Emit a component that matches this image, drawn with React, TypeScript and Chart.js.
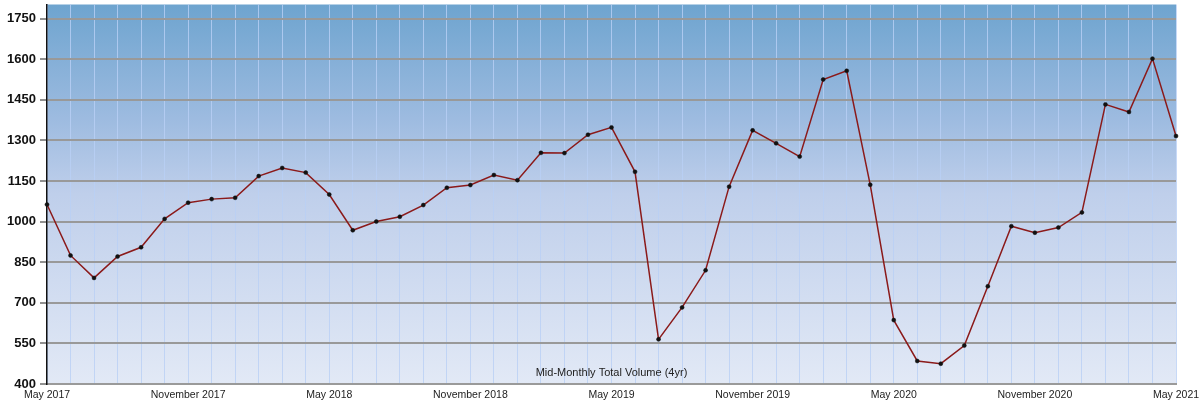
import React, { useEffect, useRef } from "react";
import { Chart, registerables } from "chart.js";

Chart.register(...registerables);

const monthNames = ["January", "February", "March", "April", "May", "June", "July", "August", "September", "October", "November", "December"];

const categories: string[] = [];
for (let i = 0; i < 49; i++) {
  const m = (4 + i) % 12;
  const y = 2017 + Math.floor((4 + i) / 12);
  categories.push(`${monthNames[m]} ${y}`);
}

const volume = [
  1063, 875, 792, 871, 905, 1010, 1070, 1083, 1088, 1168, 1198, 1181, 1100,
  968, 1000, 1018, 1061, 1125, 1135, 1172, 1153, 1254, 1253, 1321, 1348,
  1184, 565, 683, 820, 1129, 1337, 1289, 1240, 1525, 1557, 1136,
  636, 485, 475, 542, 761, 983, 959, 978, 1034, 1433, 1405, 1602, 1316,
];

const yTicks = [400, 550, 700, 850, 1000, 1150, 1300, 1450, 1600, 1750];

const chartTitle = "Mid-Monthly Total Volume (4yr)";

const bgPlugin = {
  id: "bgGradient",
  beforeDraw(chart: any) {
    const { ctx, chartArea } = chart;
    if (!chartArea) return;
    const g = ctx.createLinearGradient(0, chartArea.top, 0, chartArea.bottom);
    g.addColorStop(0, "#6ea4cf");
    g.addColorStop(0.3, "#9dbbe0");
    g.addColorStop(0.5, "#bfcfeb");
    g.addColorStop(1, "#e2e9f6");
    ctx.save();
    ctx.fillStyle = g;
    ctx.fillRect(chartArea.left, chartArea.top, chartArea.right - chartArea.left, chartArea.bottom - chartArea.top);
    ctx.restore();
  },
};

const titlePlugin = {
  id: "innerTitle",
  afterDraw(chart: any) {
    const { ctx, chartArea } = chart;
    ctx.save();
    ctx.font = "11px 'Liberation Sans', Arial, sans-serif";
    ctx.fillStyle = "#222";
    ctx.textAlign = "center";
    ctx.textBaseline = "middle";
    ctx.fillText(chartTitle, (chartArea.left + chartArea.right) / 2, chartArea.bottom - 11);
    ctx.restore();
  },
};

export default function App() {
  const ref = useRef<HTMLCanvasElement>(null);
  useEffect(() => {
    document.body.style.margin = "0";
    const chart = new Chart(ref.current!, {
      type: "line",
      data: {
        labels: categories,
        datasets: [
          {
            data: volume,
            borderColor: "#8b1a1a",
            borderWidth: 1.5,
            pointRadius: 2,
            pointBackgroundColor: "#111",
            pointBorderColor: "#111",
            pointBorderWidth: 0.5,
            tension: 0,
            fill: false,
          },
        ],
      },
      options: {
        animation: false,
        responsive: true,
        maintainAspectRatio: false,
        layout: { padding: { top: 4, right: 25, left: 0, bottom: 0 } },
        plugins: { legend: { display: false }, tooltip: { enabled: false }, title: { display: false } },
        scales: {
          x: {
            offset: false,
            afterFit(scale: any) {
              scale.height = 18;
              scale.paddingLeft = 0;
              scale.paddingRight = 0;
            },
            border: { display: true, color: "#9a9a9a", width: 2 },
            grid: {
              color: "rgba(185,208,245,0.8)",
              lineWidth: 1,
              drawTicks: false,
            },
            ticks: {
              autoSkip: false,
              maxRotation: 0,
              minRotation: 0,
              padding: 5,
              color: "#222",
              font: { family: "'Liberation Sans', Arial, sans-serif", size: 10.5 },
              callback: (_v: any, i: number) => (i % 6 === 0 ? categories[i] : ""),
            },
          },
          y: {
            min: 400,
            max: 1802,
            afterFit(scale: any) {
              scale.width = 47;
              scale.paddingTop = 0;
              scale.paddingBottom = 0;
            },
            afterBuildTicks(scale: any) {
              scale.ticks = yTicks.map((v) => ({ value: v }));
            },
            border: { display: true, color: "#111", width: 1.5 },
            grid: {
              color: "#999",
              lineWidth: 2,
              tickColor: "#222",
              tickLength: 7,
              tickWidth: 1,
            },
            ticks: {
              padding: 4,
              color: "#111",
              font: { family: "'Liberation Sans', Arial, sans-serif", size: 13, weight: "bold" },
              callback: (v: any) => String(v),
            },
          },
        },
      },
      plugins: [bgPlugin, titlePlugin],
    });
    return () => chart.destroy();
  }, []);
  return (
    <div style={{ width: 1201, height: 402, position: "relative" }}>
      <canvas ref={ref} />
    </div>
  );
}
